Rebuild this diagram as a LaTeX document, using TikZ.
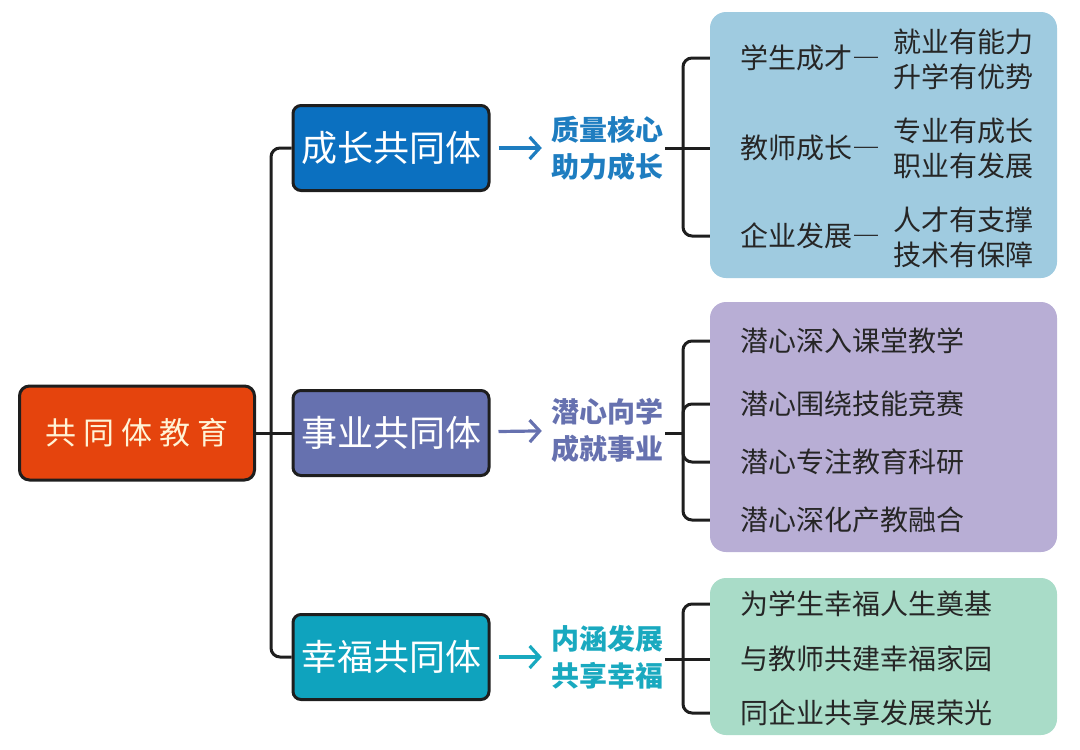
\documentclass[tikz,border=0pt]{standalone}
\usepackage{fontspec}
\setmainfont{Noto Sans CJK SC}
\usetikzlibrary{arrows.meta}

\definecolor{linecol}{HTML}{1E1E1E}
\definecolor{rootfill}{HTML}{E5440D}
\definecolor{roottext}{HTML}{FFF3D6}
\definecolor{growfill}{HTML}{0B70C0}
\definecolor{carefill}{HTML}{6671AF}
\definecolor{happyfill}{HTML}{0FA3BE}
\definecolor{growlabel}{HTML}{1E7DC0}
\definecolor{carelabel}{HTML}{6671AF}
\definecolor{happylabel}{HTML}{19A9BF}
\definecolor{growpanel}{HTML}{9FCBE0}
\definecolor{carepanel}{HTML}{B8AED5}
\definecolor{happypanel}{HTML}{A9DCC8}
\definecolor{itemtext}{HTML}{262626}

\newcommand{\wdash}{{\addfontfeature{RawFeature=+fwid}—}}

\tikzset{root box/.style={draw=linecol,line width=3pt,rounded corners=10pt,fill=rootfill,text=roottext,minimum width=235pt,minimum height=94pt,inner sep=0pt,font=\fontsize{31}{36}\selectfont\addfontfeature{LetterSpace=22}},
group box/.style={draw=linecol,line width=3pt,rounded corners=8pt,text=white,minimum width=196pt,minimum height=85pt,inner sep=0pt,font=\fontsize{36}{40}\selectfont},
aim label/.style={align=center,inner sep=2pt,font=\fontsize{28}{37}\selectfont\bfseries},
panel/.style={fill=#1,rounded corners=16pt,minimum width=347pt,inner sep=0pt},
item/.style={anchor=west,inner sep=0pt,text=itemtext,font=\fontsize{28}{35}\selectfont},
pair/.style={anchor=west,align=left,inner sep=0pt,text=itemtext,font=\fontsize{28}{35}\selectfont},
tree line/.style={draw=linecol,line width=3pt,rounded corners=9pt},
aim arrow/.style={draw=#1,line width=3.2pt,-{Straight Barb[length=10pt,width=22pt]},shorten <=8pt,shorten >=7pt}}

\begin{document}
\begin{tikzpicture}[x=1pt,y=-1pt]
\useasboundingbox (0,0) rectangle (1080,750);

%% Coordinates of nodes.
\coordinate (c0) at (137,433);
\coordinate (c1) at (391,148);
\coordinate (c2) at (391,433);
\coordinate (c3) at (391,657);
\coordinate (j1) at (271,148);
\coordinate (j3) at (271,657);

%% panels
\node [panel=growpanel,minimum height=266pt] (p1) at (883.5,145) {};
\node [panel=carepanel,minimum height=250pt] (p2) at (883.5,427) {};
\node [panel=happypanel,minimum height=157pt] (p3) at (883.5,656.5) {};

%% boxes
\node [root box] (n0) at (c0) {共同体教育};
\node [group box,fill=growfill] (n1) at (c1) {成长共同体};
\node [group box,fill=carefill] (n2) at (c2) {事业共同体};
\node [group box,fill=happyfill] (n3) at (c3) {幸福共同体};

%% aim labels
\node [aim label,text=growlabel] (l1) at (607,148) {质量核心\\助力成长};
\node [aim label,text=carelabel] (l2) at (607,430) {潜心向学\\成就事业};
\node [aim label,text=happylabel] (l3) at (607,657) {内涵发展\\共享幸福};

%% items of the first panel
\node [item] (t11) at (740,58) {学生成才\wdash};
\node [item] (t12) at (740,148) {教师成长\wdash};
\node [item] (t13) at (740,236) {企业发展\wdash};
\node [pair] (s11) at (893,59) {就业有能力\\升学有优势};
\node [pair] (s12) at (893,148) {专业有成长\\职业有发展};
\node [pair] (s13) at (893,237) {人才有支撑\\技术有保障};

%% items of the second panel
\node [item] (t21) at (740,341) {潜心深入课堂教学};
\node [item] (t22) at (740,404) {潜心围绕技能竞赛};
\node [item] (t23) at (740,462) {潜心专注教育科研};
\node [item] (t24) at (740,520) {潜心深化产教融合};

%% items of the third panel
\node [item] (t31) at (740,604) {为学生幸福人生奠基};
\node [item] (t32) at (740,659) {与教师共建幸福家园};
\node [item] (t33) at (740,713) {同企业共享发展荣光};

%% bracket joints
\coordinate (k1) at (683,148);
\coordinate (k2) at (683,433);
\coordinate (k3) at (683,659);

%% trunk
\draw [tree line] (n1.west) -- (j1) -- (j3) -- (n3.west);
\draw [tree line] (n0.east) -- (n2.west);

%% arrows
\draw [aim arrow=growlabel] (n1) -- (l1);
\draw [aim arrow=carelabel] (n2) -- (l2);
\draw [aim arrow=happylabel] (n3) -- (l3);

%% first bracket
\draw [tree line] (l1.east |- k1) -- (k1);
\draw [tree line] (p1.west |- t11) -- (k1 |- t11) -- (k1 |- t13) -- (p1.west |- t13);
\draw [tree line] (k1) -- (p1.west |- t12);

%% second bracket
\draw [tree line] (l2.east |- k2) -- (k2);
\draw [tree line] (p2.west |- t21) -- (k2 |- t21) -- (k2 |- t24) -- (p2.west |- t24);
\draw [tree line] (k2) -- (k2 |- t22) -- (p2.west |- t22);
\draw [tree line] (k2) -- (k2 |- t23) -- (p2.west |- t23);

%% third bracket
\draw [tree line] (l3.east |- k3) -- (k3);
\draw [tree line] (p3.west |- t31) -- (k3 |- t31) -- (k3 |- t33) -- (p3.west |- t33);
\draw [tree line] (k3) -- (p3.west |- t32);

\end{tikzpicture}
\end{document}
